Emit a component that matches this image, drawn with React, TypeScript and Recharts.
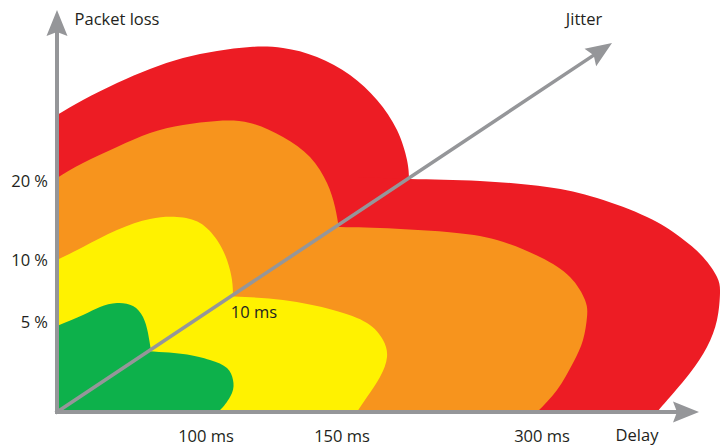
import React from 'react';
import { ComposedChart, Area, XAxis, YAxis, ReferenceLine, ReferenceDot } from 'recharts';

type Pt = [number, number];

// outline points of each zone, [delay, packet loss] in chart units (origin = axis corner)
// "LOSS" = lobe standing on the packet-loss axis, "DELAY" = lobe lying on the delay axis
const RED_LOSS: Pt[] = [[0, 297], [26, 312], [60, 329], [93, 343], [126, 354], [160, 361], [193, 365], [226, 364], [260, 355], [293, 337], [320, 312], [340, 282], [350, 252], [352, 233]];
const RED_DELAY: Pt[] = [[300, 235], [353, 233], [423, 231], [490, 225], [540, 214], [590, 195], [623, 175], [646, 155], [660, 135], [663, 119], [660, 92], [650, 65], [633, 39], [613, 15], [600, 0]];
const ORANGE_LOSS: Pt[] = [[0, 234], [26, 249], [60, 265], [93, 279], [126, 287], [160, 291], [193, 289], [226, 275], [253, 255], [270, 229], [278, 205], [282, 183]];
const ORANGE_DELAY: Pt[] = [[272, 185], [323, 184], [390, 180], [440, 172], [483, 155], [513, 135], [528, 112], [530, 95], [526, 72], [516, 49], [500, 22], [480, 0]];
const YELLOW_LOSS: Pt[] = [[0, 152], [26, 165], [60, 182], [93, 193], [120, 195], [143, 189], [160, 172], [170, 152], [175, 132], [176, 115]];
const YELLOW_DELAY: Pt[] = [[166, 116], [226, 112], [276, 102], [310, 89], [326, 72], [330, 55], [323, 35], [310, 15], [300, 0]];
const GREEN_LOSS: Pt[] = [[0, 86], [26, 97], [43, 105], [60, 109], [76, 106], [86, 95], [91, 79], [94, 61]];
const GREEN_DELAY: Pt[] = [[86, 61], [126, 58], [153, 52], [170, 44], [176, 32], [175, 19], [166, 5], [160, 0]];

const LOSS_TICKS = [231, 152, 90];
const LOSS_LABELS = ['20 %', '10 %', '5 %'];
const DELAY_TICKS = [149, 285, 485];
const DELAY_LABELS = ['100 ms', '150 ms', '300 ms'];

// arrow tips of the three axes
const AXIS_TIPS = [
  { name: 'loss', x: 0, y: 402, w: 4 },
  { name: 'delay', x: 642, y: 0, w: 4 },
  { name: 'jitter', x: 555, y: 369, w: 3.5 },
];

const TITLES = [
  { text: 'Packet loss', x: 60, y: 393 },
  { text: 'Jitter', x: 527, y: 393 },
  { text: 'Delay', x: 580, y: -23 },
  { text: '10 ms', x: 197, y: 100 },
];

const RED = '#ed1c24';
const ORANGE = '#f7941d';
const YELLOW = '#fff200';
const GREEN = '#0db14b';
const GRAY = '#959699';
const INK = '#231f20';
const FONT = '"Open Sans", "Noto Sans", sans-serif';

const SERIES = [
  { key: 'redLoss', pts: RED_LOSS, color: RED },
  { key: 'redDelay', pts: RED_DELAY, color: RED },
  { key: 'orangeLoss', pts: ORANGE_LOSS, color: ORANGE },
  { key: 'orangeDelay', pts: ORANGE_DELAY, color: ORANGE },
  { key: 'yellowLoss', pts: YELLOW_LOSS, color: YELLOW },
  { key: 'yellowDelay', pts: YELLOW_DELAY, color: YELLOW },
  { key: 'greenLoss', pts: GREEN_LOSS, color: GREEN },
  { key: 'greenDelay', pts: GREEN_DELAY, color: GREEN },
];

const TABLE = SERIES.flatMap(s => s.pts.map(([x, y]) => ({ x, [s.key]: y })));

const tickStyle = { fill: INK, fontSize: 16.5, fontFamily: FONT };

const Arrow = (props: any) => {
  const { x1, y1, x2, y2, strokeWidth } = props;
  const len = Math.hypot(x2 - x1, y2 - y1) || 1;
  const ux = (x2 - x1) / len, uy = (y2 - y1) / len;
  const nx = -uy, ny = ux;
  const L = 26, W = 10.5, N = 4;
  const bx = x2 - ux * L, by = y2 - uy * L;
  const head = [
    [x2, y2],
    [bx + nx * W, by + ny * W],
    [x2 - ux * (L - N), y2 - uy * (L - N)],
    [bx - nx * W, by - ny * W],
  ].map(p => p.join(',')).join(' ');
  return (
    <g>
      <line x1={x1} y1={y1} x2={x2 - ux * (L - N - 2)} y2={y2 - uy * (L - N - 2)}
        stroke={GRAY} strokeWidth={strokeWidth} strokeLinecap="square" />
      <polygon points={head} fill={GRAY} />
    </g>
  );
};

export default function App() {
  return (
    <div style={{ position: 'absolute', left: 0, top: 0, width: 721, height: 447, background: '#fff' }}>
      <ComposedChart width={721} height={447} data={TABLE} margin={{ top: 0, right: 0, bottom: 0, left: 0 }}>
        <XAxis dataKey="x" type="number" domain={[0, 664]} height={35}
          ticks={DELAY_TICKS} interval={0}
          tickFormatter={(v: number) => DELAY_LABELS[DELAY_TICKS.indexOf(v)]}
          axisLine={false} tickLine={false} tickSize={0} tickMargin={18} tick={tickStyle} />
        <YAxis type="number" domain={[0, 412]} width={57}
          ticks={LOSS_TICKS} interval={0}
          tickFormatter={(v: number) => LOSS_LABELS[LOSS_TICKS.indexOf(v)]}
          axisLine={false} tickLine={false} tickSize={0} tickMargin={9} tick={tickStyle} />

        {SERIES.map(s => (
          <Area key={s.key} dataKey={s.key} type="natural" connectNulls baseValue={0}
            fill={s.color} fillOpacity={1} stroke="none" dot={false} activeDot={false}
            isAnimationActive={false} />
        ))}

        {AXIS_TIPS.map(a => (
          <ReferenceLine key={a.name} segment={[{ x: 0, y: 0 }, { x: a.x, y: a.y }]}
            stroke={GRAY} strokeWidth={a.w} ifOverflow="visible" shape={Arrow} />
        ))}

        {TITLES.map(t => (
          <ReferenceDot key={t.text} x={t.x} y={t.y} r={0} fill="none" stroke="none" ifOverflow="visible"
            label={{ value: t.text, position: 'center', fill: INK, fontSize: 16.5, fontFamily: FONT }} />
        ))}
      </ComposedChart>
    </div>
  );
}
